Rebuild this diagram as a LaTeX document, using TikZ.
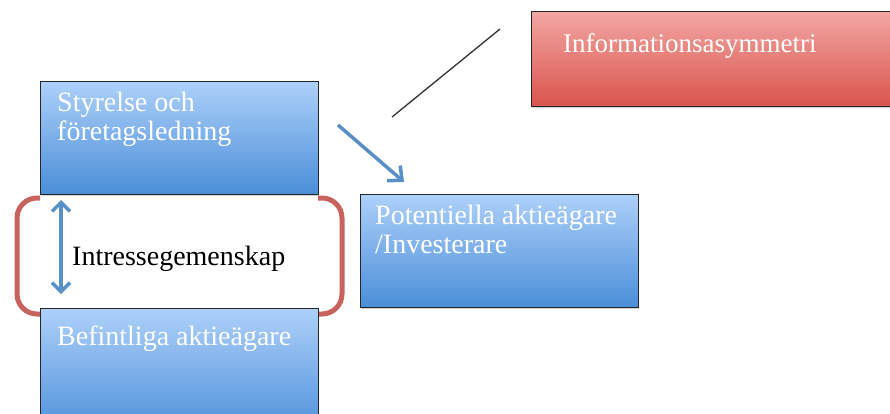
\documentclass[tikz,border=0pt]{standalone}
\usepackage{fontspec}
\setmainfont{Liberation Serif}
\usetikzlibrary{arrows.meta,shadows}
\definecolor{bluetop}{HTML}{ADD0FA}
\definecolor{bluebot}{HTML}{4A8ED8}
\definecolor{redtop}{HTML}{F2A6A2}
\definecolor{redbot}{HTML}{D9544D}
\definecolor{arrowblue}{HTML}{5A90C8}
\definecolor{bracketred}{HTML}{C8625C}
\tikzset{
  bluebox/.style={draw=black!85, line width=0.9pt, top color=bluetop, bottom color=bluebot,
    drop shadow={shadow xshift=1pt, shadow yshift=-1.5pt, opacity=0.35}, inner sep=0pt},
  redbox/.style={draw=black!85, line width=0.9pt, top color=redtop, bottom color=redbot,
    drop shadow={shadow xshift=1pt, shadow yshift=-1.5pt, opacity=0.35}, inner sep=0pt},
  boxtext/.style={text=white, font=\fontsize{28}{29}\selectfont, anchor=base west, inner sep=0pt, align=left},
  blackline/.style={draw=black!80, line width=1.3pt},
  bluearrow/.style={draw=arrowblue, line width=3.5pt, -{Straight Barb[length=11pt,width=20pt,line width=3.5pt]}},
  dblarrow/.style={draw=arrowblue, line width=3.5pt, {Straight Barb[length=9pt,width=18pt,line width=3.5pt]}-{Straight Barb[length=9pt,width=18pt,line width=3.5pt]}},
  bracket/.style={draw=bracketred, line width=5pt, rounded corners=20pt}
}
\begin{document}
\begin{tikzpicture}[x=1pt,y=-1pt]
\useasboundingbox (0,0) rectangle (890,414);
\clip (0,0) rectangle (890,414);
\fill[white] (0,0) rectangle (890,414);
% brackets
\draw[bracket] (40,198) -- (17,198) -- (17,314) -- (40,314);
\draw[bracket] (318,198) -- (342,198) -- (342,314) -- (318,314);
% boxes
\node[bluebox, minimum width=278pt, minimum height=113pt, anchor=north west] (styr) at (40,81) {};
\node[bluebox, minimum width=278pt, minimum height=130pt, anchor=north west] (bef) at (40,308) {};
\node[bluebox, minimum width=278pt, minimum height=113pt, anchor=north west] (pot) at (360,194) {};
\node[redbox, minimum width=380pt, minimum height=95pt, anchor=north west] (info) at (531,11) {};
% texts
\node[boxtext] (styrtext) at (57,141) {Styrelse och\\företagsledning};
\node[boxtext] (beftext) at (57,345) {Befintliga aktieägare};
\node[boxtext] (pottext) at (375,253) {Potentiella aktieägare\\/Investerare};
\node[boxtext, font=\fontsize{27}{29}\selectfont] (infotext) at (563,53) {Informationsasymmetri};
\node[anchor=base west, inner sep=0pt, font=\fontsize{28}{29}\selectfont] (intr) at (72,265) {Intressegemenskap};
% connectors
\coordinate (lineA) at (392,117);
\coordinate (lineB) at (500,29);
\draw[blackline] (lineA) -- (lineB);
\coordinate (arrS) at (338,125);
\coordinate (arrE) at (404,182);
\draw[bluearrow] (arrS) -- (arrE);
\draw[dblarrow] (61,200) -- (61,294);
\end{tikzpicture}
\end{document}
